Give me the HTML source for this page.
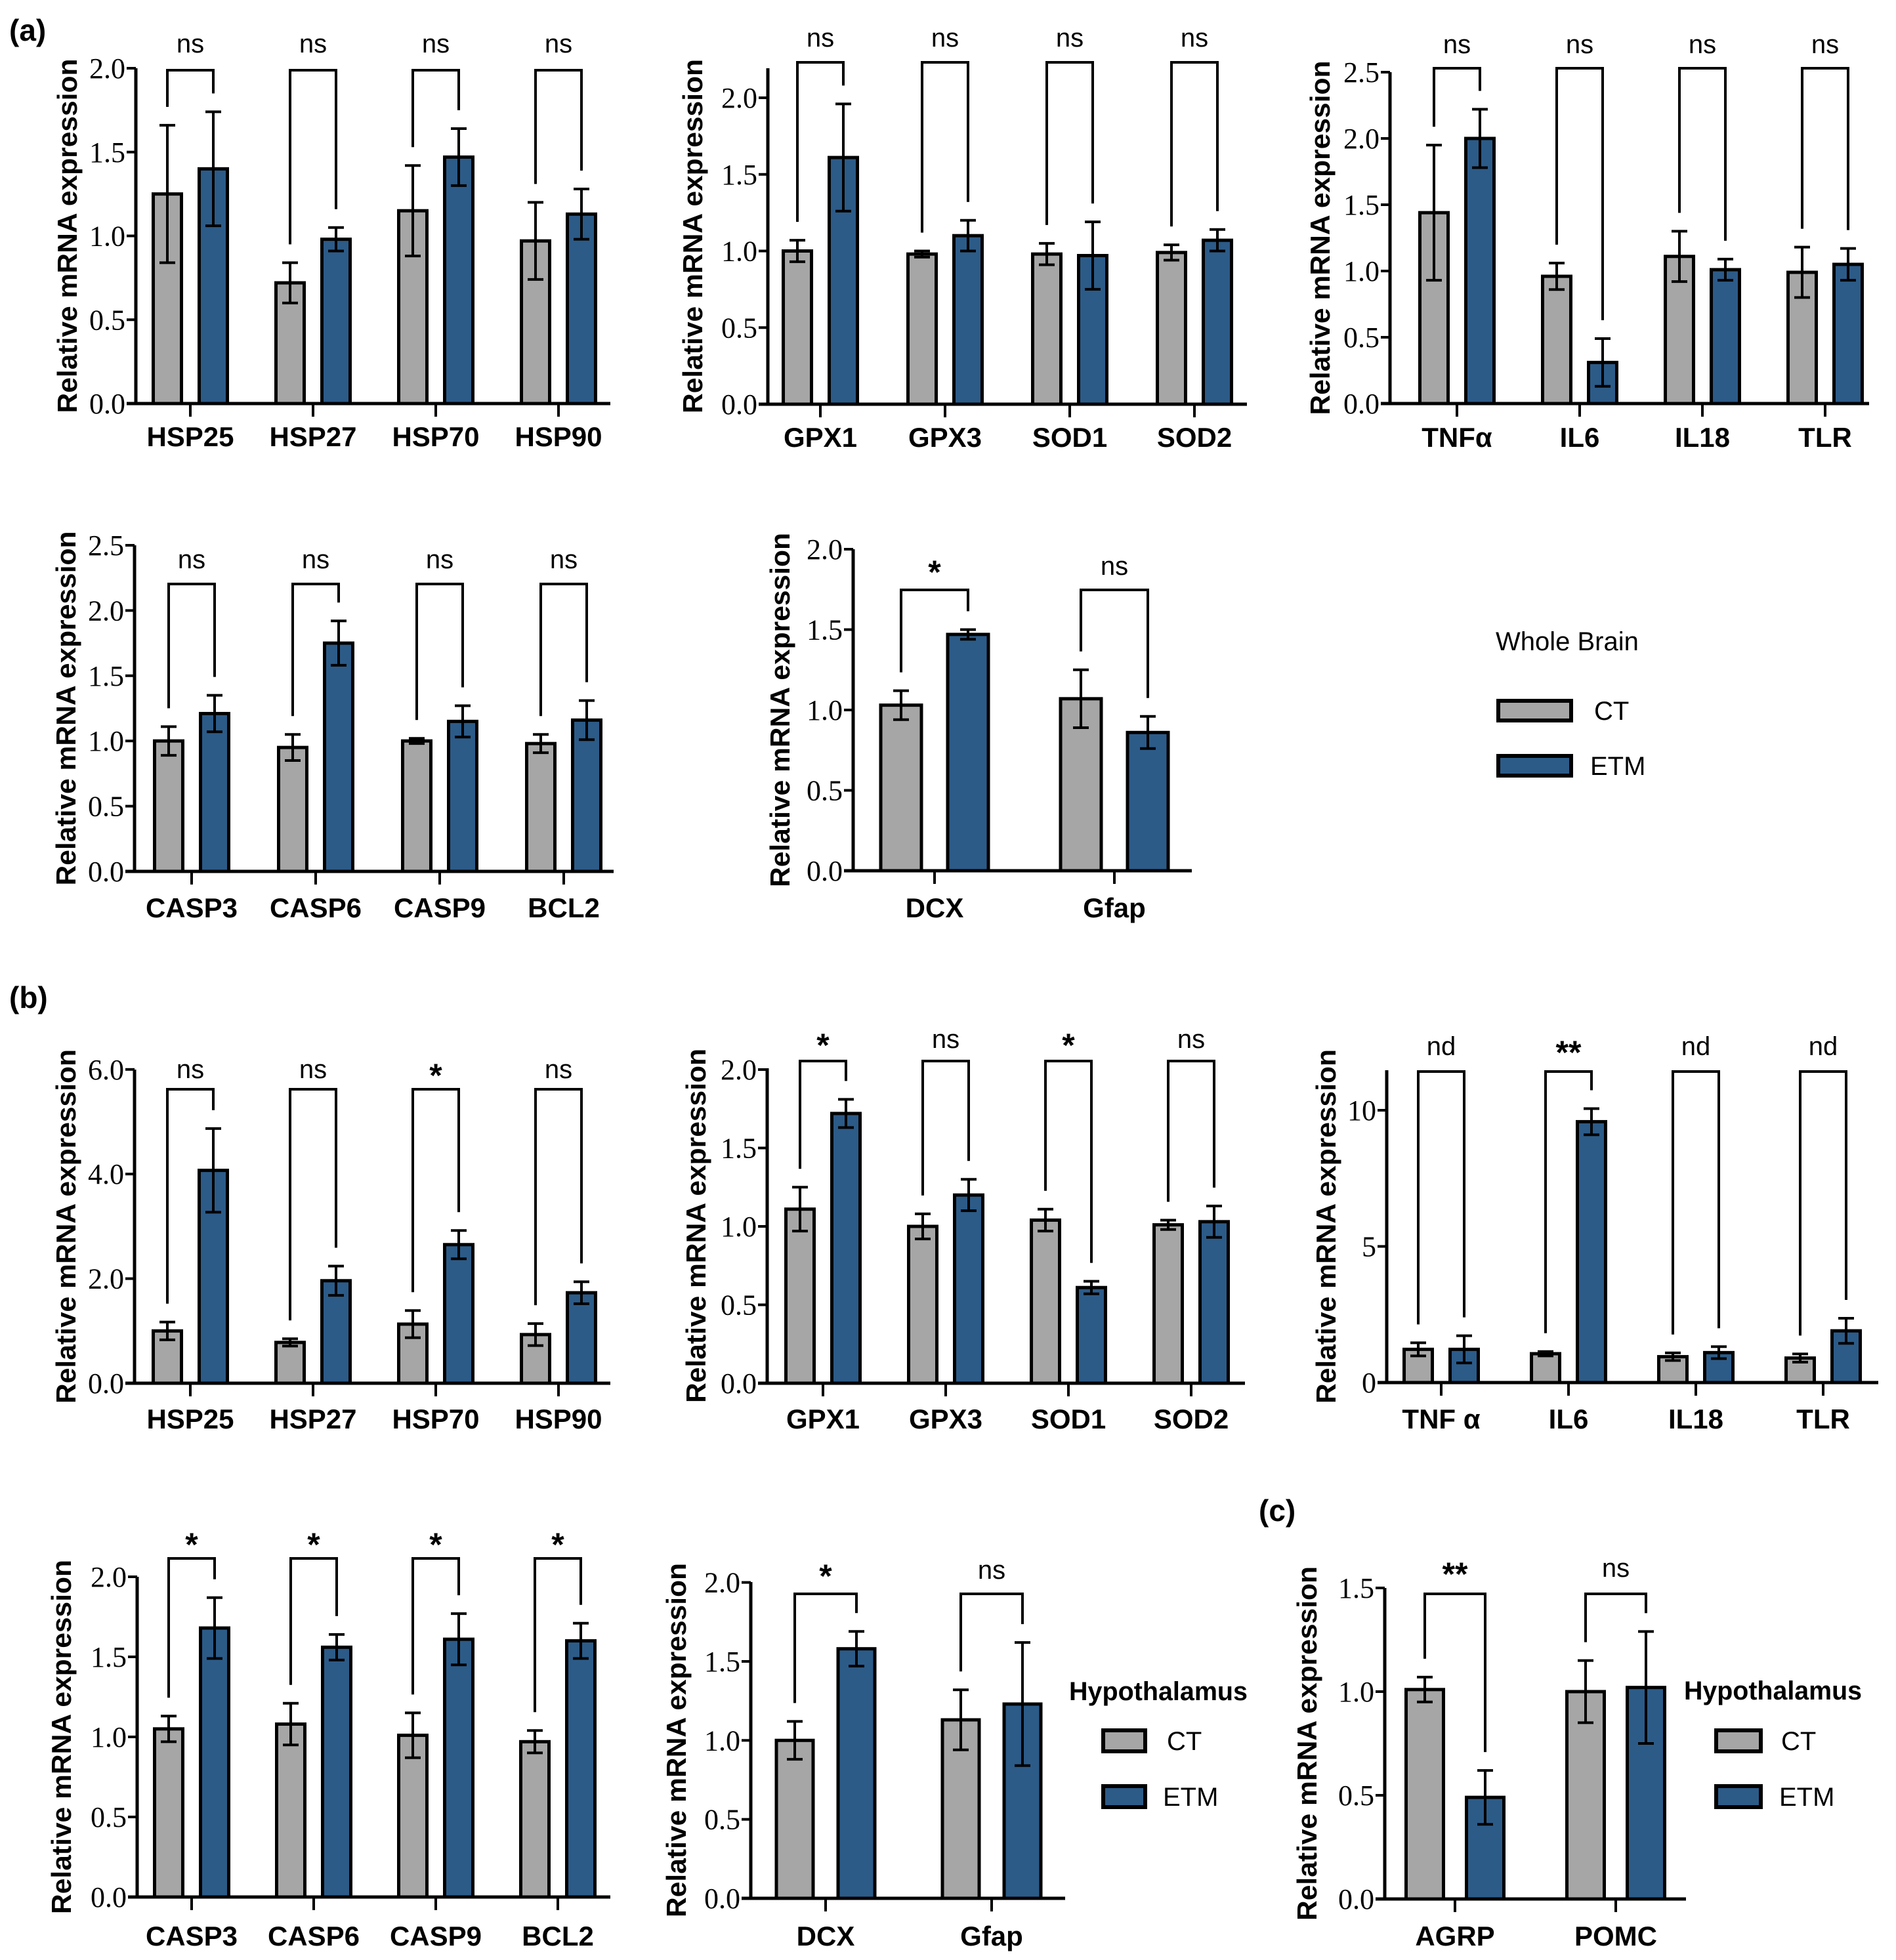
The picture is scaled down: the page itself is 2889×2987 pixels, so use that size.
<!DOCTYPE html>
<html><head><meta charset="utf-8">
<style>
html,body{margin:0;padding:0;background:#fff;}
svg{display:block;}
</style></head>
<body>
<svg id="fig" width="2889" height="2987" viewBox="0 0 2889 2987" xmlns="http://www.w3.org/2000/svg" font-family="Liberation Sans, Arial, sans-serif">
<rect width="2889" height="2987" fill="#fff"/>
<text x="14" y="62" font-size="46" font-weight="bold">(a)</text>
<text x="14" y="1536" font-size="46" font-weight="bold">(b)</text>
<text x="1918" y="2318" font-size="46" font-weight="bold">(c)</text>

<g>
<text x="2279" y="991" font-size="40">Whole Brain</text>
<rect x="2283" y="1068" width="111" height="30" fill="#a6a6a6" stroke="#000" stroke-width="6"/>
<text x="2429" y="1097" font-size="40">CT</text>
<rect x="2283" y="1152" width="111" height="30" fill="#2c5b88" stroke="#000" stroke-width="6"/>
<text x="2423" y="1181" font-size="40">ETM</text>
</g>
<g>
<text x="1629" y="2591" font-size="40" font-weight="bold" textLength="272" lengthAdjust="spacingAndGlyphs">Hypothalamus</text>
<rect x="1681" y="2637" width="64" height="32" fill="#a6a6a6" stroke="#000" stroke-width="6"/>
<text x="1778" y="2667" font-size="40">CT</text>
<rect x="1681" y="2722" width="64" height="32" fill="#2c5b88" stroke="#000" stroke-width="6"/>
<text x="1772" y="2752" font-size="40">ETM</text>
</g>
<g>
<text x="2566" y="2590" font-size="40" font-weight="bold" textLength="271" lengthAdjust="spacingAndGlyphs">Hypothalamus</text>
<rect x="2615" y="2637" width="68" height="32" fill="#a6a6a6" stroke="#000" stroke-width="6"/>
<text x="2714" y="2667" font-size="40">CT</text>
<rect x="2615" y="2722" width="68" height="32" fill="#2c5b88" stroke="#000" stroke-width="6"/>
<text x="2711" y="2752" font-size="40">ETM</text>
</g>
</svg>
<script>
// ---- data arrays ----
const a1Cats=["HSP25","HSP27","HSP70","HSP90"];
const a1Ct=[1.25,0.72,1.15,0.97];
const a1CtErr=[0.41,0.12,0.27,0.23];
const a1Etm=[1.40,0.98,1.47,1.13];
const a1EtmErr=[0.34,0.07,0.17,0.15];
const a1Sig=["ns","ns","ns","ns"];

const a2Cats=["GPX1","GPX3","SOD1","SOD2"];
const a2Ct=[1.00,0.98,0.98,0.99];
const a2CtErr=[0.07,0.02,0.07,0.05];
const a2Etm=[1.61,1.10,0.97,1.07];
const a2EtmErr=[0.35,0.10,0.22,0.07];
const a2Sig=["ns","ns","ns","ns"];

const a3Cats=["TNFα","IL6","IL18","TLR"];
const a3Ct=[1.44,0.96,1.11,0.99];
const a3CtErr=[0.51,0.10,0.19,0.19];
const a3Etm=[2.00,0.31,1.01,1.05];
const a3EtmErr=[0.22,0.18,0.08,0.12];
const a3Sig=["ns","ns","ns","ns"];

const a4Cats=["CASP3","CASP6","CASP9","BCL2"];
const a4Ct=[1.00,0.95,1.00,0.98];
const a4CtErr=[0.11,0.10,0.02,0.07];
const a4Etm=[1.21,1.75,1.15,1.16];
const a4EtmErr=[0.14,0.17,0.12,0.15];
const a4Sig=["ns","ns","ns","ns"];

const a5Cats=["DCX","Gfap"];
const a5Ct=[1.03,1.07];
const a5CtErr=[0.09,0.18];
const a5Etm=[1.47,0.86];
const a5EtmErr=[0.03,0.10];
const a5Sig=["*","ns"];

const b1Cats=["HSP25","HSP27","HSP70","HSP90"];
const b1Ct=[1.00,0.78,1.13,0.93];
const b1CtErr=[0.17,0.07,0.26,0.21];
const b1Etm=[4.07,1.96,2.65,1.73];
const b1EtmErr=[0.80,0.28,0.27,0.21];
const b1Sig=["ns","ns","*","ns"];

const b2Cats=["GPX1","GPX3","SOD1","SOD2"];
const b2Ct=[1.11,1.00,1.04,1.01];
const b2CtErr=[0.14,0.08,0.07,0.03];
const b2Etm=[1.72,1.20,0.61,1.03];
const b2EtmErr=[0.09,0.10,0.04,0.10];
const b2Sig=["*","ns","*","ns"];

const b3Cats=["TNF α","IL6","IL18","TLR"];
const b3Ct=[1.22,1.06,0.95,0.90];
const b3CtErr=[0.24,0.08,0.14,0.15];
const b3Etm=[1.22,9.58,1.10,1.90];
const b3EtmErr=[0.50,0.48,0.22,0.46];
const b3Sig=["nd","**","nd","nd"];

const b4Cats=["CASP3","CASP6","CASP9","BCL2"];
const b4Ct=[1.05,1.08,1.01,0.97];
const b4CtErr=[0.08,0.13,0.14,0.07];
const b4Etm=[1.68,1.56,1.61,1.60];
const b4EtmErr=[0.19,0.08,0.16,0.11];
const b4Sig=["*","*","*","*"];

const b5Cats=["DCX","Gfap"];
const b5Ct=[1.00,1.13];
const b5CtErr=[0.12,0.19];
const b5Etm=[1.58,1.23];
const b5EtmErr=[0.11,0.39];
const b5Sig=["*","ns"];

const cCats=["AGRP","POMC"];
const cCt=[1.01,1.00];
const cCtErr=[0.06,0.15];
const cEtm=[0.49,1.02];
const cEtmErr=[0.13,0.27];
const cSig=["**","ns"];

const tickVals2=[0,0.5,1.0,1.5,2.0];
const tickLbl2=["0.0","0.5","1.0","1.5","2.0"];
const tickVals25=[0,0.5,1.0,1.5,2.0,2.5];
const tickLbl25=["0.0","0.5","1.0","1.5","2.0","2.5"];
const tickVals6=[0,2,4,6];
const tickLbl6=["0.0","2.0","4.0","6.0"];
const tickVals10=[0,5,10];
const tickLbl10=["0","5","10"];
const tickVals15=[0,0.5,1.0,1.5];
const tickLbl15=["0.0","0.5","1.0","1.5"];

const NS="http://www.w3.org/2000/svg";
const svg=document.getElementById('fig');
function mk(tag,attrs,parent){const e=document.createElementNS(NS,tag);for(const k in attrs)e.setAttribute(k,attrs[k]);(parent||svg).appendChild(e);return e;}

function panel(id,cfg,cats,ct,ctErr,etm,etmErr,sig,tv,tl){
  const g=mk('g',{});
  
  
  const y=v=>cfg.y0-v*cfg.unit;
  const cx=i=>cfg.c0+i*cfg.step;
  cats.forEach((c,i)=>{
    [[ct,ctErr,-cfg.off,'#a6a6a6','ct'],[etm,etmErr,cfg.off,'#2c5b88','etm']].forEach(([vals,errs,off,col,nm])=>{
      const x=cx(i)+off, top=y(vals[i]);
      const b=mk('rect',{x:x-cfg.bw/2,y:top,width:cfg.bw,height:cfg.y0-top,fill:col,stroke:'#000','stroke-width':5},g);
      
      
      const e1=y(vals[i]+errs[i]), e2=y(vals[i]-errs[i]);
      const eb=mk('path',{d:`M${x} ${e1}V${e2}M${x-12} ${e1}H${x+12}M${x-12} ${e2}H${x+12}`,stroke:'#000','stroke-width':4,fill:'none'},g);
      
      
    });
    const xl=cx(i)-cfg.off, xr=cx(i)+cfg.off;
    const lb=y(ct[i]+ctErr[i])-28, rb=y(etm[i]+etmErr[i])-28;
    const br=mk('path',{d:`M${xl} ${Math.max(lb,cfg.bt+20)}V${cfg.bt}H${xr}V${Math.max(rb,cfg.bt+20)}`,stroke:'#000','stroke-width':4,fill:'none'},g);
    
    
    const star=sig[i].indexOf('*')>=0;
    const st=mk('text',{x:cx(i),y:cfg.sy+(star?26:13),'text-anchor':'middle','font-size':star?50:40,'font-weight':star?'bold':'normal'},g);
    st.textContent=sig[i];
    
    
    mk('line',{x1:cx(i),x2:cx(i),y1:cfg.y0,y2:cfg.y0+20,stroke:'#000','stroke-width':4},g);
    const xlab=mk('text',{x:cx(i),y:cfg.ly+15,'text-anchor':'middle','font-size':42,'font-weight':'bold'},g);
    xlab.textContent=c;
    
    
  });
  const ya=mk('line',{x1:cfg.ax,x2:cfg.ax,y1:cfg.top,y2:cfg.y0+2,stroke:'#000','stroke-width':5},g);
  
  
  const xa=mk('line',{x1:cfg.ax-14,x2:cfg.xEnd,y1:cfg.y0,y2:cfg.y0,stroke:'#000','stroke-width':5},g);
  
  
  tv.forEach((v,k)=>{
    mk('line',{x1:cfg.ax-14,x2:cfg.ax,y1:y(v),y2:y(v),stroke:'#000','stroke-width':4},g);
    const t=mk('text',{x:cfg.ax-16,y:y(v)+15,'text-anchor':'end','font-family':'Liberation Serif, Times New Roman, serif','font-size':44},g);
    t.textContent=tl[k];
    
    
  });
  const mid=(cfg.top+cfg.y0)/2;
  const yt=mk('text',{x:0,y:0,'text-anchor':'middle','font-size':42,'font-weight':'bold',transform:`translate(${cfg.tx+15},${mid}) rotate(-90)`,textLength:540,lengthAdjust:'spacingAndGlyphs'},g);
  yt.textContent='Relative mRNA expression';
  
  
}

panel('a-heat-shock',{ax:207,y0:615,unit:255.5,top:104,xEnd:930,c0:290,step:187,off:35,bw:43,bt:107,sy:67,ly:665,tx:102},a1Cats,a1Ct,a1CtErr,a1Etm,a1EtmErr,a1Sig,tickVals2,tickLbl2);
panel('a-antioxidant',{ax:1170,y0:616,unit:233.5,top:104,xEnd:1900,c0:1250,step:190,off:35,bw:43,bt:95,sy:58,ly:666,tx:1055},a2Cats,a2Ct,a2CtErr,a2Etm,a2EtmErr,a2Sig,tickVals2,tickLbl2);
panel('a-inflammation',{ax:2118,y0:615,unit:202,top:110,xEnd:2848,c0:2220,step:187,off:35,bw:43,bt:104,sy:68,ly:666,tx:2011},a3Cats,a3Ct,a3CtErr,a3Etm,a3EtmErr,a3Sig,tickVals25,tickLbl25);
panel('a-apoptosis',{ax:205,y0:1328,unit:198.8,top:831,xEnd:935,c0:292,step:189,off:35,bw:43,bt:890,sy:853,ly:1383,tx:100},a4Cats,a4Ct,a4CtErr,a4Etm,a4EtmErr,a4Sig,tickVals25,tickLbl25);
panel('a-neuro',{ax:1300,y0:1327,unit:245,top:837,xEnd:1816,c0:1424,step:274,off:51,bw:62,bt:899,sy:863,ly:1383,tx:1188},a5Cats,a5Ct,a5CtErr,a5Etm,a5EtmErr,a5Sig,tickVals2,tickLbl2);
panel('b-heat-shock',{ax:205,y0:2108,unit:79.7,top:1630,xEnd:930,c0:290,step:187,off:35,bw:43,bt:1660,sy:1630,ly:2162,tx:100},b1Cats,b1Ct,b1CtErr,b1Etm,b1EtmErr,b1Sig,tickVals6,tickLbl6);
panel('b-antioxidant',{ax:1169,y0:2108,unit:239,top:1628,xEnd:1897,c0:1254,step:187,off:35,bw:43,bt:1617,sy:1584,ly:2162,tx:1060},b2Cats,b2Ct,b2CtErr,b2Etm,b2EtmErr,b2Sig,tickVals2,tickLbl2);
panel('b-inflammation',{ax:2113,y0:2107,unit:41.5,top:1631,xEnd:2862,c0:2196,step:194,off:35,bw:43,bt:1633,sy:1595,ly:2162,tx:2020},b3Cats,b3Ct,b3CtErr,b3Etm,b3EtmErr,b3Sig,tickVals10,tickLbl10);
panel('b-apoptosis',{ax:209,y0:2891,unit:244,top:2403,xEnd:930,c0:292,step:186,off:35,bw:43,bt:2375,sy:2345,ly:2950,tx:93},b4Cats,b4Ct,b4CtErr,b4Etm,b4EtmErr,b4Sig,tickVals2,tickLbl2);
panel('b-neuro',{ax:1144,y0:2893,unit:240.7,top:2411,xEnd:1623,c0:1258,step:253,off:47,bw:56,bt:2429,sy:2393,ly:2950,tx:1030},b5Cats,b5Ct,b5CtErr,b5Etm,b5EtmErr,b5Sig,tickVals2,tickLbl2);
panel('c-appetite',{ax:2110,y0:2894,unit:316,top:2420,xEnd:2569,c0:2217,step:245,off:46,bw:57,bt:2429,sy:2390,ly:2950,tx:1991},cCats,cCt,cCtErr,cEtm,cEtmErr,cSig,tickVals15,tickLbl15);
</script>
</body></html>
